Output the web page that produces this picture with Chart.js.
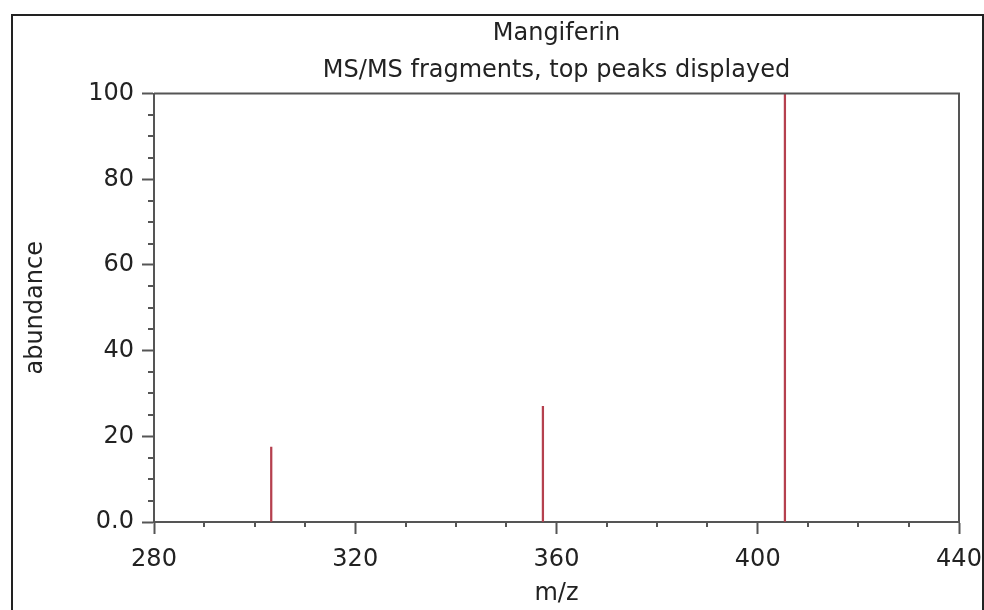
<!DOCTYPE html>
<html>
<head>
<meta charset="utf-8">
<script src="https://cdn.jsdelivr.net/npm/chart.js@4"></script>
<style>
  html, body { margin: 0; padding: 0; background: #fff; }
  #wrap { width: 984px; height: 610px; position: relative; }
</style>
</head>
<body>
<div id="wrap"><canvas id="spectrumChart" width="984" height="610"></canvas></div>
<script>
// peak list (m/z vs relative abundance)
const peakMz = [303.3, 357.3, 405.4];
const peakAbundance = [17.5, 27, 100];

// axis ticks
const xTicks = [280, 320, 360, 400, 440];
const yTicks = [0, 20, 40, 60, 80, 100];
const xMinorStep = 10;
const yMinorStep = 5;

const axisColor = '#555';
const textColor = '#222';
const fontFamily = '"DejaVu Sans", sans-serif';
const fontSize = 24;

// outer frame and box lines on top/right of the plot area
const framePlugin = {
    id: 'frame',
    beforeDraw(chart) {
        const ctx = chart.ctx;
        ctx.save();
        ctx.fillStyle = '#fff';
        ctx.fillRect(0, 0, chart.width, chart.height);
        ctx.strokeStyle = '#222';
        ctx.lineWidth = 2;
        ctx.beginPath();
        ctx.moveTo(12, chart.height);
        ctx.lineTo(12, 15);
        ctx.lineTo(983, 15);
        ctx.lineTo(983, chart.height);
        ctx.stroke();
        ctx.restore();
    },
    afterDraw(chart) {
        const ctx = chart.ctx;
        const area = chart.chartArea;
        const xs = chart.scales.x;
        const ys = chart.scales.y;
        ctx.save();
        ctx.strokeStyle = axisColor;
        ctx.lineWidth = 2;
        ctx.beginPath();
        ctx.moveTo(area.left, area.top);
        ctx.lineTo(area.right, area.top);
        ctx.lineTo(area.right, area.bottom);
        ctx.stroke();

        // minor ticks
        ctx.beginPath();
        for (let v = xs.min; v <= xs.max; v += xMinorStep) {
            if (xTicks.includes(v)) continue;
            const px = Math.round(xs.getPixelForValue(v));
            ctx.moveTo(px, area.bottom);
            ctx.lineTo(px, area.bottom + 5);
        }
        for (let v = ys.min; v <= ys.max; v += yMinorStep) {
            if (yTicks.includes(v)) continue;
            const py = Math.round(ys.getPixelForValue(v));
            ctx.moveTo(area.left, py);
            ctx.lineTo(area.left - 6, py);
        }
        ctx.stroke();
        ctx.restore();
    }
};

const ctx = document.getElementById('spectrumChart').getContext('2d');

const spectrumChart = new Chart(ctx, {
    type: 'bar',
    data: {
        datasets: [{
            label: 'Mangiferin',
            data: peakMz.map((mz, i) => ({ x: mz, y: peakAbundance[i] })),
            backgroundColor: '#b5404e',
            borderWidth: 0,
            barThickness: 1.6
        }]
    },
    options: {
        responsive: false,
        animation: false,
        layout: { padding: { left: 0, right: 25, top: 0, bottom: 0 } },
        plugins: {
            legend: { display: false },
            tooltip: { enabled: false },
            title: {
                display: true,
                fullSize: false,
                text: 'Mangiferin',
                color: textColor,
                font: { family: fontFamily, size: fontSize, weight: 'normal', lineHeight: 1.2 },
                padding: { top: 19, bottom: 4 }
            },
            subtitle: {
                display: true,
                fullSize: false,
                text: 'MS/MS fragments, top peaks displayed',
                color: textColor,
                font: { family: fontFamily, size: fontSize, weight: 'normal', lineHeight: 1.2 },
                padding: { top: 5, bottom: 8 }
            }
        },
        scales: {
            x: {
                type: 'linear',
                min: 280,
                max: 440,
                offset: false,
                afterFit(scale) {
                    scale.height = 88;
                    scale.paddingLeft = 0;
                    scale.paddingRight = 0;
                },
                afterBuildTicks(scale) { scale.ticks = xTicks.map(v => ({ value: v })); },
                ticks: {
                    color: textColor,
                    font: { family: fontFamily, size: fontSize },
                    padding: 11,
                    maxRotation: 0
                },
                grid: {
                    offset: false,
                    drawOnChartArea: false,
                    tickLength: 12,
                    tickWidth: 2,
                    tickColor: axisColor
                },
                border: { color: axisColor, width: 2 },
                title: {
                    display: true,
                    text: 'm/z',
                    color: textColor,
                    font: { family: fontFamily, size: fontSize, lineHeight: 1.2 },
                    padding: { top: 0, bottom: 2 }
                }
            },
            y: {
                min: 0,
                max: 100,
                afterFit(scale) { scale.width = 154; },
                afterBuildTicks(scale) { scale.ticks = yTicks.map(v => ({ value: v })); },
                ticks: {
                    color: textColor,
                    font: { family: fontFamily, size: fontSize },
                    padding: 8,
                    callback: v => (v === 0 ? '0.0' : String(v))
                },
                grid: {
                    drawOnChartArea: false,
                    tickLength: 12,
                    tickWidth: 2,
                    tickColor: axisColor
                },
                border: { color: axisColor, width: 2 },
                title: {
                    display: true,
                    text: 'abundance',
                    color: textColor,
                    font: { family: fontFamily, size: fontSize, lineHeight: 1.2 },
                    padding: { top: 21, bottom: 0 }
                }
            }
        }
    },
    plugins: [framePlugin]
});
</script>
</body>
</html>
